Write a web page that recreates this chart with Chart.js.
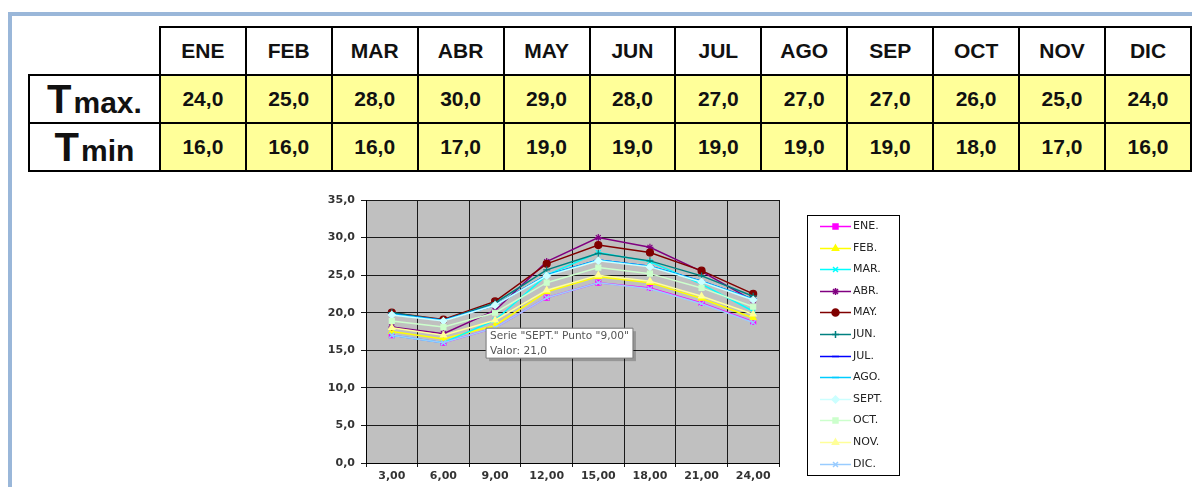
<!DOCTYPE html>
<html>
<head>
<meta charset="utf-8">
<script src="https://cdn.jsdelivr.net/npm/chart.js@4/dist/chart.umd.min.js"></script>
<style>
    html, body { margin:0; padding:0; background:#fff; width:1192px; height:487px; overflow:hidden; font-family:'Liberation Sans', Arial, sans-serif; }
    .frame { position:absolute; left:8px; top:12px; width:1190px; height:480px; border-top:4px solid #9ab7d9; border-left:4px solid #9ab7d9; }
    table { position:absolute; left:28px; top:26px; border-collapse:collapse; table-layout:fixed; font-weight:bold; }
    td { border:2px solid #000; text-align:center; padding:0; font-size:21px; color:#111; }
    tr.head td { height:46px; background:#fff; }
    tr.vals td { height:46px; background:#ffff99; }
    td.corner { border:none; background:#fff; }
    td.lbl { background:#fff !important; line-height:1; white-space:nowrap; }
    td.lbl .big { font-size:40px; }
    td.lbl .small { font-size:30px; margin-left:2px; }
    #chartBox { position:absolute; left:290px; top:185px; }
</style>
</head>
<body>
<div class="frame"></div>
<table id="tempTable"></table>
<canvas id="chartBox" width="640" height="302"></canvas>
<script>
// Table data
const months = ['ENE', 'FEB', 'MAR', 'ABR', 'MAY', 'JUN', 'JUL', 'AGO', 'SEP', 'OCT', 'NOV', 'DIC'];
const tMax = [24, 25, 28, 30, 29, 28, 27, 27, 27, 26, 25, 24];
const tMin = [16, 16, 16, 17, 19, 19, 19, 19, 19, 18, 17, 16];

// Chart data
const hours = ['3,00', '6,00', '9,00', '12,00', '15,00', '18,00', '21,00', '24,00'];
const seriesNames = ['ENE.', 'FEB.', 'MAR.', 'ABR.', 'MAY.', 'JUN.', 'JUL.', 'AGO.', 'SEPT.', 'OCT.', 'NOV.', 'DIC.'];
const ene  = [17, 16, 18, 22, 24, 23.3, 21.3, 18.8];
const feb  = [17.5, 16.5, 18.3, 22.8, 24.8, 24.0, 21.9, 19.3];
const mar  = [17, 16, 19, 25, 28, 26.8, 23.8, 20.2];
const abr  = [18.1, 17.2, 20.3, 26.8, 30, 28.7, 25.5, 21.6];
const may  = [20, 19.1, 21.5, 26.5, 29, 28, 25.6, 22.5];
const jun  = [20, 19, 21.3, 25.7, 27.9, 26.9, 24.9, 22.2];
const jul  = [19.8, 19, 21, 25, 27, 26.2, 24.2, 21.8];
const ago  = [19.8, 19, 21, 25, 27, 26.2, 24.2, 21.8];
const sept = [19.7, 18.9, 21, 24.9, 26.9, 26.1, 24.1, 21.7];
const oct  = [18.9, 18.1, 20, 24, 26, 25.2, 23.3, 20.8];
const nov  = [18, 17, 19, 23, 25, 24.2, 22.2, 19.8];
const dic  = [17, 16, 18, 22, 24, 23.2, 21.2, 18.7];

const seriesValues = [ene, feb, mar, abr, may, jun, jul, ago, sept, oct, nov, dic];
const seriesColors = ['#ff00ff', '#ffff00', '#00ffff', '#800080', '#800000', '#008080', '#0000ff', '#00ccff', '#ccffff', '#ccffcc', '#ffff99', '#99ccff'];
const seriesMarkers = ['rect', 'triangle', 'crossRot', 'star', 'circle', 'cross', 'line', 'line', 'rectRot', 'rect', 'triangle', 'crossRot'];

const fmt1 = v => v.toFixed(1).replace('.', ',');
const axisFont = { family: '"DejaVu Sans", sans-serif', size: 11, weight: 'bold' };

// Build the table
const tbl = document.getElementById('tempTable');
let html = '<colgroup><col style="width:131px">' + months.map(() => '<col style="width:86px">').join('') + '</colgroup>';
html += '<tr class="head"><td class="corner"></td>' + months.map(m => `<td>${m}</td>`).join('') + '</tr>';
html += '<tr class="vals"><td class="lbl"><span class="big">T</span><span class="small">max.</span></td>' + tMax.map(v => `<td>${fmt1(v)}</td>`).join('') + '</tr>';
html += '<tr class="vals"><td class="lbl"><span class="big">T</span><span class="small">min</span></td>' + tMin.map(v => `<td>${fmt1(v)}</td>`).join('') + '</tr>';
tbl.innerHTML = html;

// Plot background
const plotBg = {
    id: 'plotBg',
    beforeDraw(chart) {
        const { ctx, chartArea: a } = chart;
        ctx.save();
        ctx.fillStyle = '#c0c0c0';
        ctx.fillRect(a.left, a.top, a.right - a.left, a.bottom - a.top);
        ctx.restore();
    }
};

// Boxed legend with line + marker samples
const boxLegend = {
    id: 'boxLegend',
    afterDraw(chart) {
        const { ctx, chartArea: a } = chart;
        const left = a.right + 28, top = a.top + 15;
        ctx.save();
        ctx.strokeStyle = '#000'; ctx.lineWidth = 1;
        ctx.strokeRect(left + 0.5, top + 0.5, 92, 260);
        ctx.font = '11px "DejaVu Sans", sans-serif';
        ctx.textBaseline = 'middle';
        chart.data.datasets.forEach((ds, i) => {
            const y = Math.round(top + 11 + i * 21.6) + 0.5;
            ctx.strokeStyle = ds.borderColor; ctx.fillStyle = ds.pointBackgroundColor;
            ctx.lineWidth = 1.5;
            ctx.beginPath(); ctx.moveTo(left + 13, y); ctx.lineTo(left + 44, y); ctx.stroke();
            Chart.helpers.drawPoint(ctx, { pointStyle: ds.pointStyle, radius: 3.5, borderWidth: 1.2, rotation: 0 }, left + 28.5, y);
            ctx.fillStyle = '#222';
            ctx.fillText(ds.label, left + 46, y);
        });
        ctx.restore();
    }
};

// Little drop shadow under the tooltip
const tipShadow = {
    id: 'tipShadow',
    beforeTooltipDraw(chart, args) {
        const t = args.tooltip;
        const ctx = chart.ctx;
        ctx.save();
        ctx.fillStyle = 'rgba(0,0,0,0.22)';
        ctx.fillRect(t.x + 3, t.y + 3, t.width, t.height);
        ctx.restore();
    }
};

Chart.Tooltip.positioners.underPoint = function(items) {
    if (!items.length) return false;
    const el = items[0].element;
    return { x: el.x - 9, y: el.y + 23 };
};

const datasets = seriesNames.map((name, i) => ({
    label: name,
    data: seriesValues[i],
    borderColor: seriesColors[i],
    backgroundColor: seriesColors[i],
    pointBackgroundColor: seriesColors[i],
    pointBorderColor: seriesColors[i],
    pointStyle: seriesMarkers[i],
    pointRadius: 3.5,
    pointHoverRadius: 3.5,
    pointBorderWidth: 1.2,
    borderWidth: 1.5,
    tension: 0,
    order: seriesNames.length - i
}));

const chart = new Chart(document.getElementById('chartBox'), {
    type: 'line',
    data: { labels: hours, datasets },
    options: {
        responsive: false,
        animation: false,
        events: [],
        devicePixelRatio: 1,
        layout: { padding: { left: 16, right: 151, top: 15, bottom: 0 } },
        plugins: {
            legend: { display: false },
            tooltip: {
                enabled: true,
                position: 'underPoint',
                xAlign: 'left', yAlign: 'top',
                caretSize: 0, caretPadding: 0, cornerRadius: 0,
                displayColors: false,
                backgroundColor: '#fff',
                borderColor: '#777', borderWidth: 1,
                titleColor: '#555', bodyColor: '#555',
                titleFont: { family: '"DejaVu Sans", sans-serif', size: 10.6, weight: 'normal' },
                bodyFont: { family: '"DejaVu Sans", sans-serif', size: 10.6 },
                titleMarginBottom: 1.5,
                padding: { left: 4, right: 4, top: 2, bottom: 1 },
                callbacks: {
                    title: items => `Serie "${items[0].dataset.label}" Punto "${items[0].label}"`,
                    label: item => 'Valor: ' + fmt1(item.parsed.y)
                }
            }
        },
        scales: {
            x: {
                offset: true,
                grid: { offset: true, color: '#1a1a1a', lineWidth: 1, tickLength: 4 },
                border: { color: '#000' },
                ticks: { color: '#333', padding: 3, maxRotation: 0, font: axisFont },
                afterFit: s => { s.height = 24; }
            },
            y: {
                min: 0, max: 35,
                grid: { color: '#1a1a1a', lineWidth: 1, tickLength: 5 },
                border: { color: '#000' },
                ticks: { stepSize: 5, color: '#333', padding: 6, callback: v => fmt1(v), font: axisFont },
                afterFit: s => { s.width = 60; }
            }
        }
    },
    plugins: [plotBg, boxLegend, tipShadow]
});

// Show the SEPT. tooltip at 9,00
const septIdx = seriesNames.indexOf('SEPT.');
const pt = chart.getDatasetMeta(septIdx).data[2];
chart.tooltip.setActiveElements([{ datasetIndex: septIdx, index: 2 }], { x: pt.x, y: pt.y });
chart.update();
</script>
</body>
</html>
